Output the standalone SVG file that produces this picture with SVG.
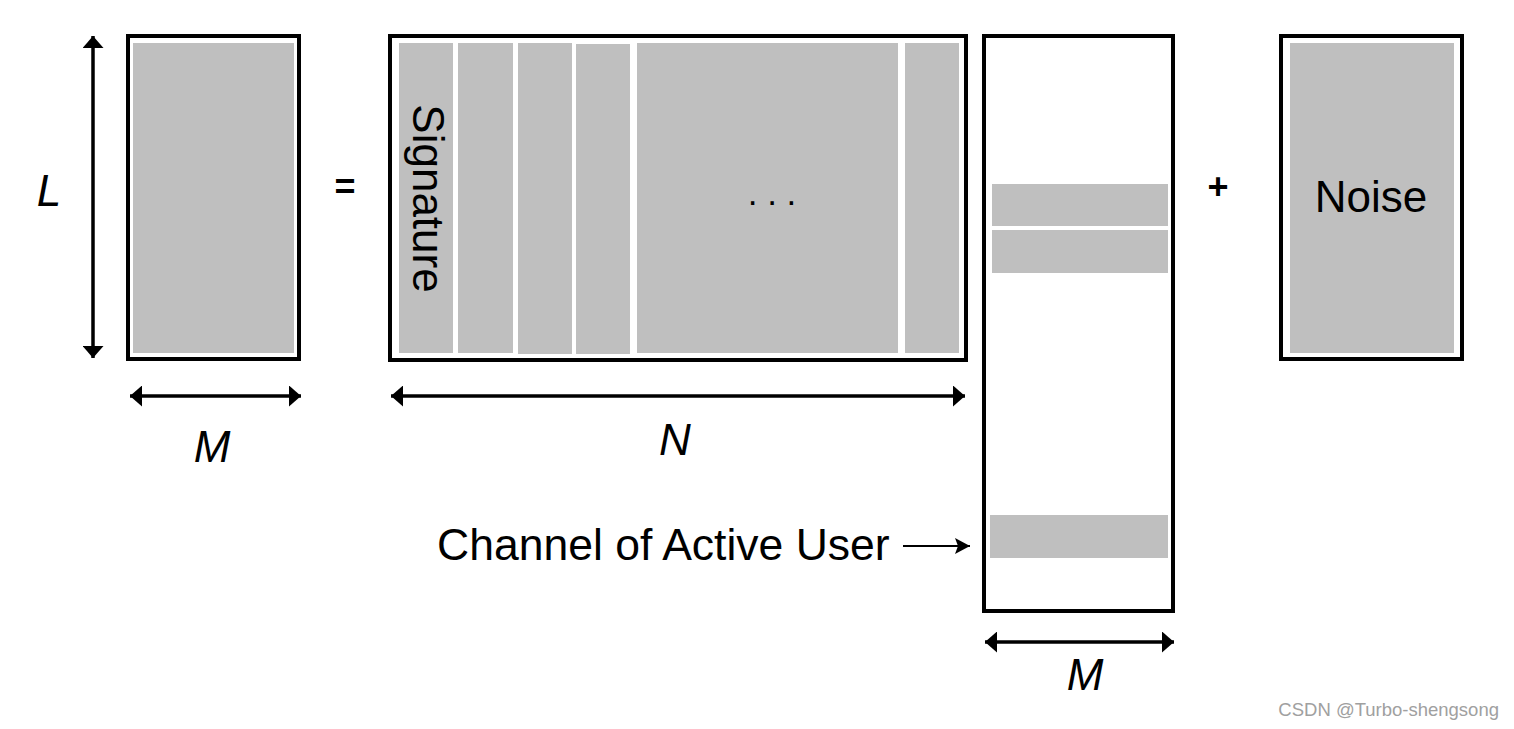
<svg xmlns="http://www.w3.org/2000/svg" width="1514" height="729" viewBox="0 0 1514 729">
<style>
.frame{fill:#ffffff;stroke:#000000;stroke-width:4}
.cell{fill:#bfbfbf;stroke:none}
.lbl{font-family:"Liberation Sans",Arial,sans-serif;font-size:44px;fill:#000000}
.it{font-style:italic;text-anchor:middle}
.op{font-family:"Liberation Sans",Arial,sans-serif;font-size:36px;font-weight:bold;text-anchor:middle;fill:#000000}
.dim{stroke:#000000;stroke-width:3.5;fill:none}
.ptr{stroke:#000000;stroke-width:2;fill:none}
</style>
<defs>
<marker id="ah" markerUnits="userSpaceOnUse" markerWidth="13" markerHeight="21" refX="12" refY="10.5" orient="auto-start-reverse">
<path d="M0,0 L12,10.5 L0,21 Z" fill="#000000"/>
</marker>
<marker id="ah2" markerUnits="userSpaceOnUse" markerWidth="16" markerHeight="16" refX="15" refY="8" orient="auto">
<path d="M0,0 L15,8 L0,16 L3,8 Z" fill="#000000"/>
</marker>
</defs>

<g id="matrix-Y">
<rect class="frame" x="128" y="36" width="171" height="323"/>
<rect class="cell" x="133" y="43" width="161" height="310"/>
</g>

<g id="equals"><text class="op" x="345" y="199">=</text></g>

<g id="matrix-signature">
<rect class="frame" x="390" y="36" width="576" height="324"/>
<rect class="cell" x="399" y="43" width="54" height="310"/>
<rect class="cell" x="458" y="43" width="55" height="310"/>
<rect class="cell" x="518" y="43" width="54" height="311"/>
<rect class="cell" x="576" y="44" width="54" height="310"/>
<rect class="cell" x="637" y="43" width="261" height="310"/>
<rect class="cell" x="905" y="43" width="54" height="310"/>
<text class="lbl" text-anchor="middle" transform="translate(413,198.5) rotate(90)">Signature</text>
<text class="lbl" x="772" y="204.5" style="font-size:35px" text-anchor="middle">. . .</text>
</g>

<g id="matrix-channel">
<rect class="frame" x="984" y="36" width="189" height="575"/>
<rect class="cell" x="992" y="184" width="176" height="42"/>
<rect class="cell" x="992" y="230" width="176" height="43"/>
<rect class="cell" x="990" y="515" width="178" height="43"/>
</g>

<g id="plus"><text class="op" x="1218" y="199">+</text></g>

<g id="matrix-noise">
<rect class="frame" x="1281" y="36" width="181" height="323"/>
<rect class="cell" x="1290" y="43" width="164" height="310"/>
<text class="lbl" x="1371" y="212" text-anchor="middle">Noise</text>
</g>

<g id="labels">
<text class="lbl it" x="49" y="206">L</text>
<text class="lbl it" x="212" y="462">M</text>
<text class="lbl it" x="675" y="455">N</text>
<text class="lbl it" x="1085" y="690">M</text>
<text class="lbl" x="437" y="560" style="font-size:44.5px">Channel of Active User</text>
</g>

<g id="connectors">
<line class="dim" x1="93" y1="36" x2="93" y2="358" marker-start="url(#ah)" marker-end="url(#ah)"/>
<line class="dim" x1="130" y1="396" x2="301" y2="396" marker-start="url(#ah)" marker-end="url(#ah)"/>
<line class="dim" x1="391" y1="396" x2="965" y2="396" marker-start="url(#ah)" marker-end="url(#ah)"/>
<line class="dim" x1="985" y1="642" x2="1174" y2="642" marker-start="url(#ah)" marker-end="url(#ah)"/>
<line class="ptr" x1="903" y1="546" x2="970" y2="546" marker-end="url(#ah2)"/>
</g>

<text x="1499" y="716" text-anchor="end" style="font-family:'Liberation Sans',Arial,sans-serif;font-size:18.5px;fill:#a0a0a0">CSDN @Turbo-shengsong</text>
</svg>
